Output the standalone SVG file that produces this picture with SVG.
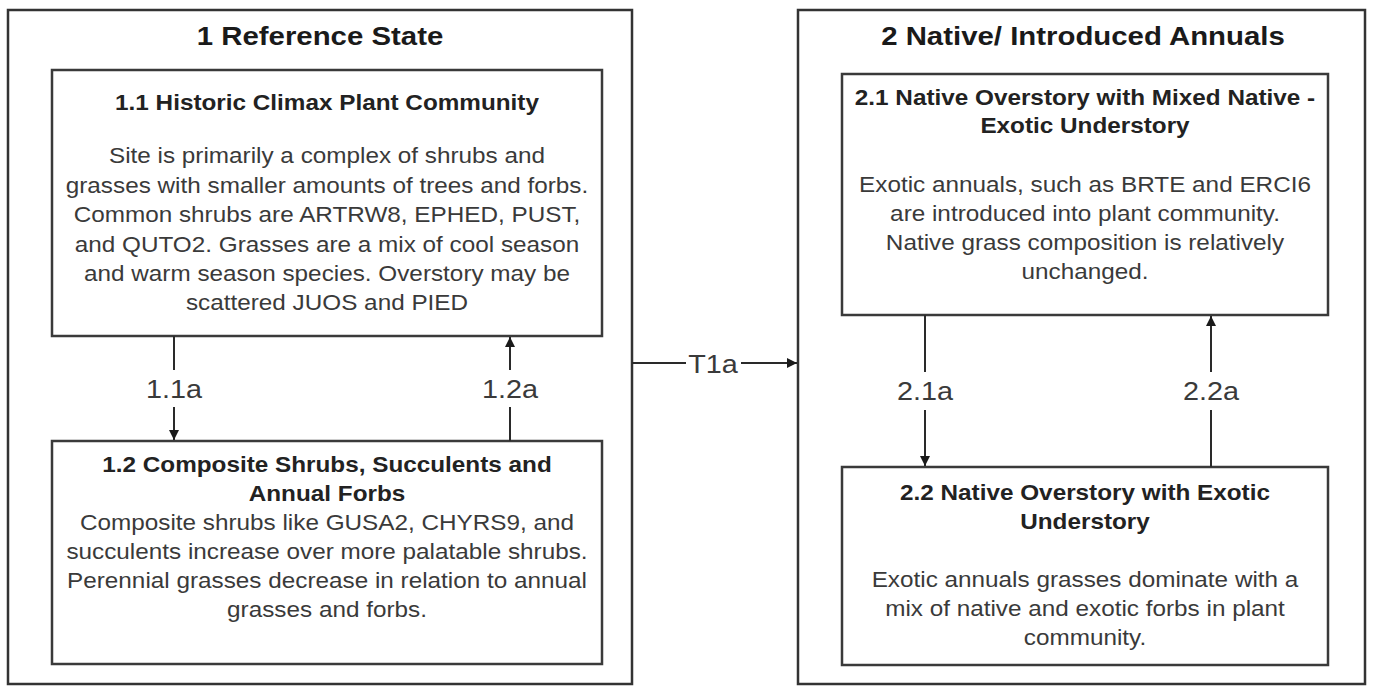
<svg xmlns="http://www.w3.org/2000/svg" width="1375" height="686" viewBox="0 0 1375 686">
<defs>
<style>
.outer{fill:#fff;stroke:#333;stroke-width:2.5}
.inner{fill:#fff;stroke:#3a3a3a;stroke-width:2.5}
.shadow{fill:none;stroke:#bbb;stroke-width:2}
text{font-family:"Liberation Sans",Arial,sans-serif;text-anchor:middle}
.st{font-size:26px;font-weight:bold;fill:#1a1a1a}
.ct{font-size:21.5px;font-weight:bold;fill:#222}
.bd{font-size:21.5px;fill:#3a3a3a}
.lb{font-size:25.5px;fill:#3a3a3a}
.con{stroke:#2a2a2a;stroke-width:2;fill:none}
</style>
<marker id="ah" viewBox="0 0 10 10" refX="10" refY="5" markerWidth="10" markerHeight="10" markerUnits="userSpaceOnUse" orient="auto">
<path d="M0,0 L10,5 L0,10 z" fill="#1a1a1a"/>
</marker>
</defs>
<rect width="1375" height="686" fill="#fff"/>
<g id="state1">
<rect class="outer" x="8" y="10" width="624" height="674"/>
<text class="st" transform="translate(320,45) scale(1.13,1)">1 Reference State</text>
</g>
<g id="state2">
<rect class="outer" x="798" y="10" width="567" height="674"/>
<text class="st" transform="translate(1083,45) scale(1.13,1)">2 Native/ Introduced Annuals</text>
</g>
<g id="c11">
<rect class="inner" x="52" y="70" width="550" height="266"/>
<text class="ct" transform="translate(327,110) scale(1.13,1)">1.1 Historic Climax Plant Community</text>
<text class="bd" transform="translate(327,163) scale(1.13,1)">Site is primarily a complex of shrubs and</text>
<text class="bd" transform="translate(327,193) scale(1.13,1)">grasses with smaller amounts of trees and forbs.</text>
<text class="bd" transform="translate(327,222) scale(1.13,1)">Common shrubs are ARTRW8, EPHED, PUST,</text>
<text class="bd" transform="translate(327,252) scale(1.13,1)">and QUTO2. Grasses are a mix of cool season</text>
<text class="bd" transform="translate(327,281) scale(1.13,1)">and warm season species. Overstory may be</text>
<text class="bd" transform="translate(327,310) scale(1.13,1)">scattered JUOS and PIED</text>
</g>
<g id="c12">
<rect class="inner" x="52" y="441" width="550" height="223"/>
<text class="ct" transform="translate(327,472) scale(1.13,1)">1.2 Composite Shrubs, Succulents and</text>
<text class="ct" transform="translate(327,501) scale(1.13,1)">Annual Forbs</text>
<text class="bd" transform="translate(327,530) scale(1.13,1)">Composite shrubs like GUSA2, CHYRS9, and</text>
<text class="bd" transform="translate(327,559) scale(1.13,1)">succulents increase over more palatable shrubs.</text>
<text class="bd" transform="translate(327,588) scale(1.13,1)">Perennial grasses decrease in relation to annual</text>
<text class="bd" transform="translate(327,617) scale(1.13,1)">grasses and forbs.</text>
</g>
<g id="c21">
<rect class="inner" x="842" y="74" width="486" height="241"/>
<text class="ct" transform="translate(1085,105) scale(1.13,1)">2.1 Native Overstory with Mixed Native -</text>
<text class="ct" transform="translate(1085,133) scale(1.13,1)">Exotic Understory</text>
<text class="bd" transform="translate(1085,192) scale(1.13,1)">Exotic annuals, such as BRTE and ERCI6</text>
<text class="bd" transform="translate(1085,221) scale(1.13,1)">are introduced into plant community.</text>
<text class="bd" transform="translate(1085,250) scale(1.13,1)">Native grass composition is relatively</text>
<text class="bd" transform="translate(1085,279) scale(1.13,1)">unchanged.</text>
</g>
<g id="c22">
<rect class="inner" x="842" y="467" width="486" height="198"/>
<text class="ct" transform="translate(1085,500) scale(1.13,1)">2.2 Native Overstory with Exotic</text>
<text class="ct" transform="translate(1085,529) scale(1.13,1)">Understory</text>
<text class="bd" transform="translate(1085,587) scale(1.13,1)">Exotic annuals grasses dominate with a</text>
<text class="bd" transform="translate(1085,616) scale(1.13,1)">mix of native and exotic forbs in plant</text>
<text class="bd" transform="translate(1085,645) scale(1.13,1)">community.</text>
</g>
<g id="connectors">
<path class="con" d="M174,336 V370"/>
<path class="con" d="M174,407 V440" marker-end="url(#ah)"/>
<text class="lb" transform="translate(174,398) scale(1.13,1)">1.1a</text>
<path class="con" d="M510,441 V407"/>
<path class="con" d="M510,370 V337" marker-end="url(#ah)"/>
<text class="lb" transform="translate(510,398) scale(1.13,1)">1.2a</text>
<path class="con" d="M632,363 H686"/>
<path class="con" d="M741,363 H797" marker-end="url(#ah)"/>
<text class="lb" transform="translate(713,373) scale(1.13,1)">T1a</text>
<path class="con" d="M925,315 V372"/>
<path class="con" d="M925,410 V466" marker-end="url(#ah)"/>
<text class="lb" transform="translate(925,400) scale(1.13,1)">2.1a</text>
<path class="con" d="M1211,467 V410"/>
<path class="con" d="M1211,372 V316" marker-end="url(#ah)"/>
<text class="lb" transform="translate(1211,400) scale(1.13,1)">2.2a</text>
</g>
</svg>
